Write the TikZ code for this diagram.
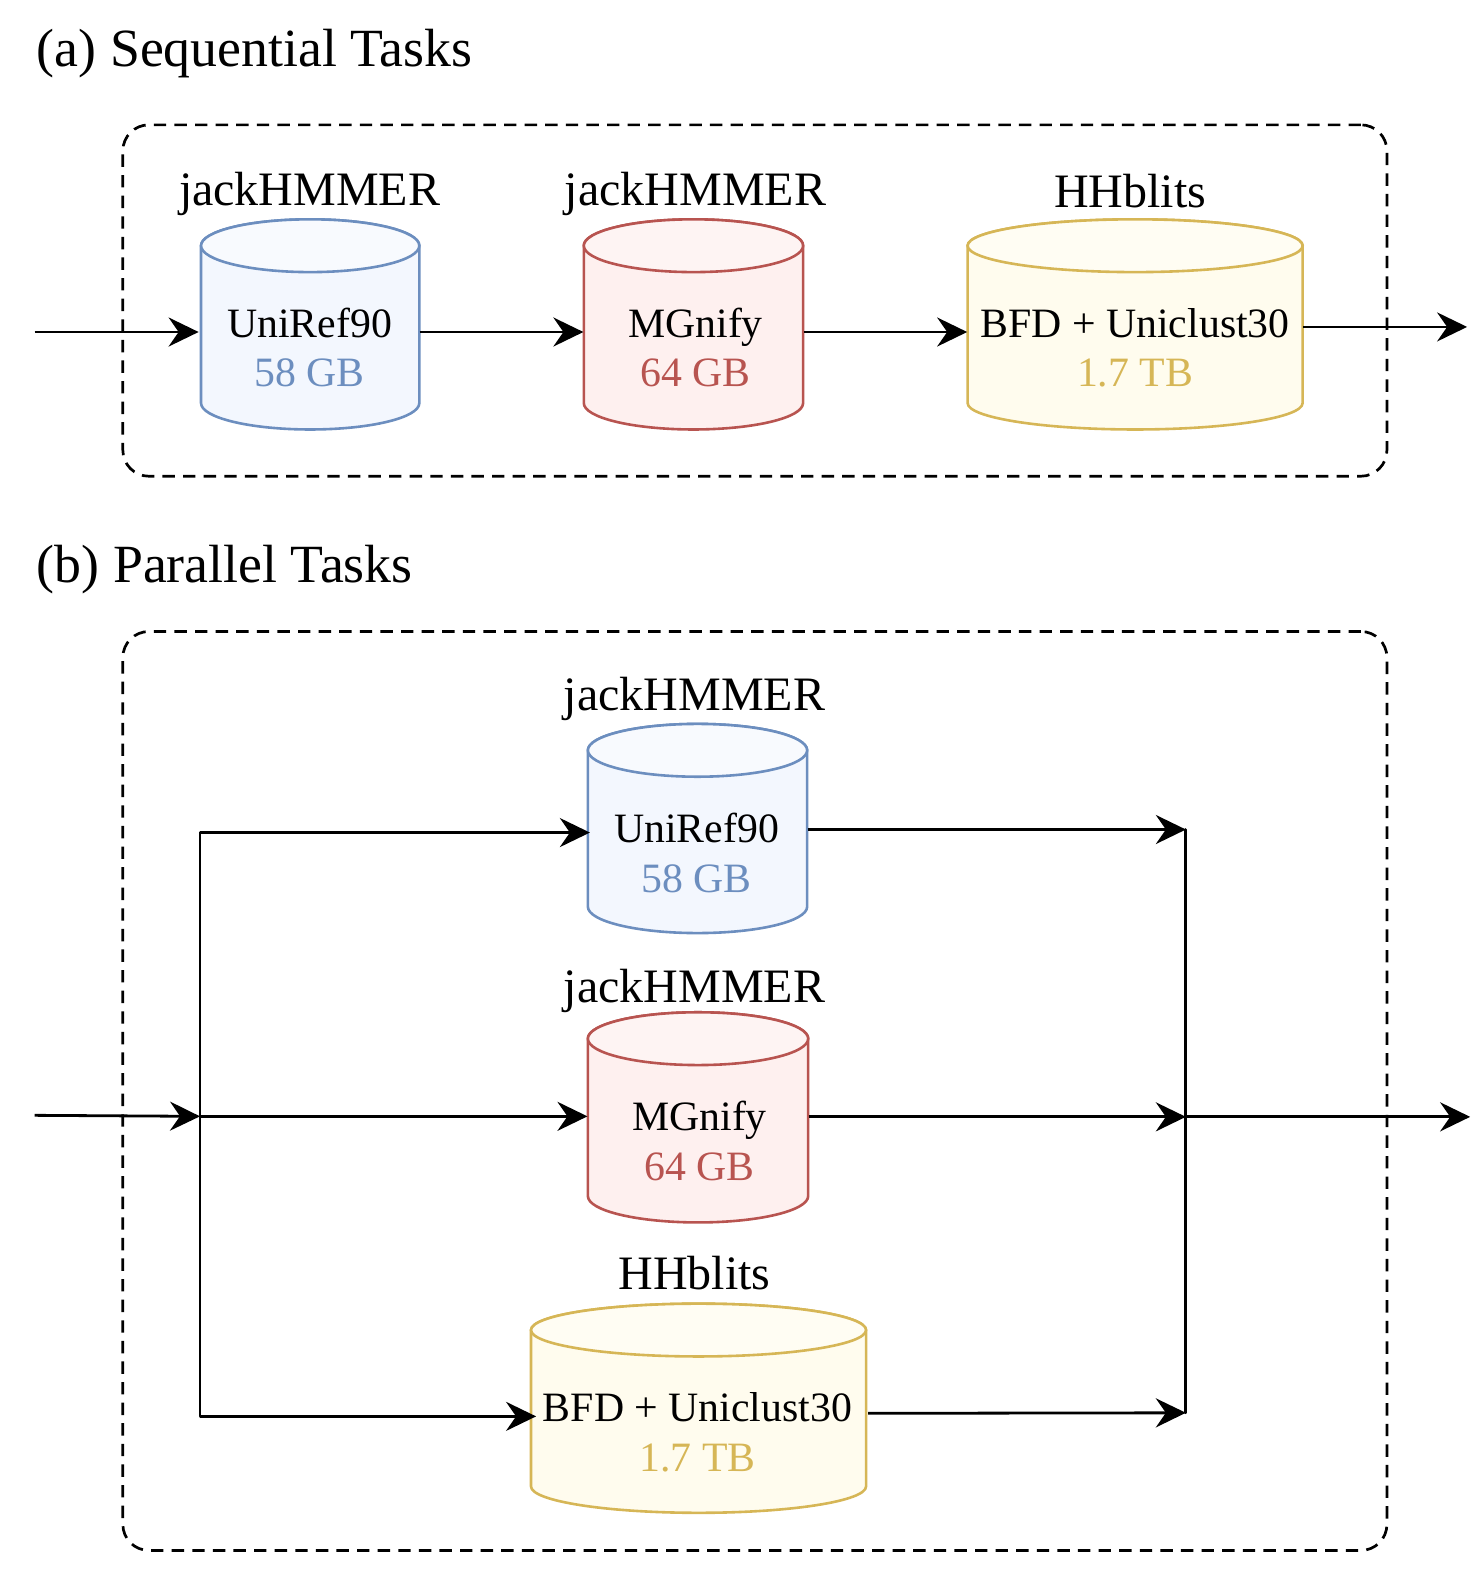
\documentclass[tikz,border=0pt]{standalone}
\usepackage{fontspec}
\setmainfont{Liberation Serif}
\usetikzlibrary{arrows.meta}
\definecolor{bluel}{HTML}{6C8EBF}\definecolor{bluef}{HTML}{F3F7FE}\definecolor{bluet}{HTML}{F8FAFE}
\definecolor{redl}{HTML}{B85450}\definecolor{redf}{HTML}{FEF0EF}\definecolor{redt}{HTML}{FEF4F3}
\definecolor{yell}{HTML}{D6B656}\definecolor{yelf}{HTML}{FFFCEE}\definecolor{yelt}{HTML}{FFFDF3}
\tikzset{
  x=0.5077pt,y=-0.5077pt,
  arr/.style={line width=1.4pt,-{Stealth[length=15pt,width=14.5pt,inset=5pt]}},
  plainline/.style={line width=1.4pt},
  groupbox/.style={draw,dash pattern=on 6.2pt off 4.1pt,line width=1.35pt,rounded corners=13pt},
  heading/.style={font=\fontsize{26.9}{30}\selectfont,anchor=west,inner sep=0pt},
  tool/.style={font=\fontsize{24}{28}\selectfont,inner sep=0pt,anchor=base},
  dbname/.style={font=\fontsize{20.9}{24}\selectfont,inner sep=0pt,anchor=base},
  dbsize/.style={font=\fontsize{20.9}{24}\selectfont,inner sep=0pt,anchor=base},
}
% name, x1, x2, y1, y2, line, fill, topfill
\newcommand{\dbcyl}[8]{%
  \pgfmathsetmacro{\mx}{(#2+#3)/2}\pgfmathsetmacro{\rx}{(#3-#2)/2}%
  \pgfmathsetmacro{\my}{(#4+#5)/2}%
  \path[draw=#6,fill=#7,line width=1.3pt,line join=round]
    (#2,#4+26) arc[start angle=180,end angle=0,x radius=\rx*0.5077pt,y radius=13.2pt]
    -- (#3,#5-26) arc[start angle=0,end angle=-180,x radius=\rx*0.5077pt,y radius=13.2pt] -- cycle;
  \path[draw=#6,fill=#8,line width=1.3pt] (\mx,#4+26) ellipse[x radius=\rx*0.5077pt,y radius=13.2pt];
  \node[inner sep=0pt,minimum width={(#3-#2)*0.5077pt},minimum height={(#5-#4)*0.5077pt}] (#1) at (\mx,\my) {};
}
\begin{document}
\begin{tikzpicture}
\useasboundingbox (0,0) rectangle (1453.8,1568);
\node[heading] (ta) at (36,53) {(a) Sequential Tasks};
\node[heading] (tb) at (36,561) {(b) Parallel Tasks};
\node[groupbox,minimum width=632.1pt,minimum height=175.7pt,inner sep=0pt] (ga) at (743.5,296) {};
\node[groupbox,minimum width=632.1pt,minimum height=459.5pt,inner sep=0pt] (gb) at (743.5,1074.5) {};

% (a)
\dbcyl{a1}{198}{413}{216}{423}{bluel}{bluef}{bluet}
\dbcyl{a2}{575}{791}{216}{423}{redl}{redf}{redt}
\dbcyl{a3}{953}{1283}{216}{423}{yell}{yelf}{yelt}
\node[tool] (la1) at (305,202) {jackHMMER};
\node[tool] (la2) at (685,202) {jackHMMER};
\node[tool] (la3) at (1113,204) {HHblits};
\node[dbname] (na1) at (305,332) {UniRef90};
\node[dbsize,text=bluel] (sa1) at (305,381) {58 GB};
\node[dbname] (na2) at (685,332) {MGnify};
\node[dbsize,text=redl] (sa2) at (685,381) {64 GB};
\node[dbname] (na3) at (1118,332) {BFD + Uniclust30};
\node[dbsize,text=yell] (sa3) at (1118,381) {1.7 TB};
\coordinate (ina) at (34,327);
\coordinate (outa) at (1445,322);
\draw[arr,shorten >=1pt] (ina) -- (a1.west |- ina);
\draw[arr] (a1.east |- ina) -- (a2.west |- ina);
\draw[arr] (a2.east |- ina) -- (a3.west |- ina);
\draw[arr] (a3.east |- outa) -- (outa);

% (b)
\dbcyl{b1}{579}{795}{713}{919}{bluel}{bluef}{bluet}
\dbcyl{b2}{579}{796}{997}{1204}{redl}{redf}{redt}
\dbcyl{b3}{523}{853}{1284}{1490}{yell}{yelf}{yelt}
\node[tool] (lb1) at (684,700) {jackHMMER};
\node[tool] (lb2) at (684,987) {jackHMMER};
\node[tool] (lb3) at (684,1270) {HHblits};
\node[dbname] (nb1) at (686,830) {UniRef90};
\node[dbsize,text=bluel] (sb1) at (686,879) {58 GB};
\node[dbname] (nb2) at (689,1113) {MGnify};
\node[dbsize,text=redl] (sb2) at (689,1163) {64 GB};
\node[dbname] (nb3) at (687,1400) {BFD + Uniclust30};
\node[dbsize,text=yell] (sb3) at (687,1449) {1.7 TB};
\coordinate (inb) at (34,1098.5);
\coordinate (sp) at (197,1099.5);
\coordinate (sp1) at (197,820);
\coordinate (sp3) at (197,1395);
\coordinate (jn) at (1168,1100);
\coordinate (jn1) at (1168,817);
\coordinate (jn3) at (1168,1391.5);
\coordinate (outb) at (1448,1100);
\draw[arr] (inb) -- (sp);
\draw[plainline,line cap=round] (sp1) -- (sp3);
\draw[arr] (sp1) -- (581,820);
\draw[arr] (sp) -- (b2.west |- sp);
\draw[arr] (sp3) -- (528,1395);
\draw[arr] (b1.east |- jn1) -- (jn1);
\draw[arr] (b2.east |- jn) -- (jn);
\draw[arr] (855,1392) -- (jn3);
\draw[plainline,line cap=round] (jn1) -- (jn3);
\draw[arr] (jn) -- (outb);
\end{tikzpicture}
\end{document}
